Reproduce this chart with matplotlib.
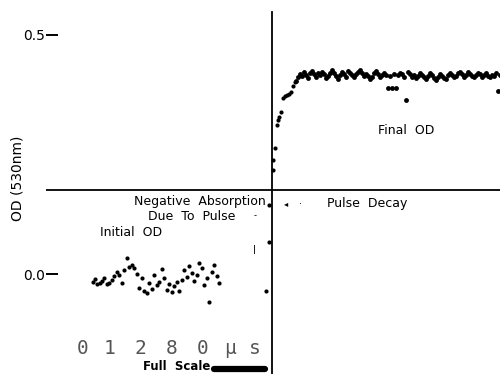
import numpy as np
import matplotlib.pyplot as plt
from matplotlib.lines import Line2D

# Time in microseconds (pulse at t = 0), optical density at 530 nm

# trace before the pulse (initial OD)
initial_t = [-448, -443, -438, -430, -425, -420, -413, -408, -400, -395,
             -388, -383, -375, -370, -363, -358, -350, -345, -338, -333,
             -325, -320, -313, -308, -300, -295, -288, -283, -275, -270,
             -263, -258, -250, -245, -238, -233, -225, -220, -213, -208,
             -200, -195, -188, -183, -175, -170, -163, -158, -150, -145,
             -138, -133]
initial_od = [-0.017, -0.010, -0.021, -0.019, -0.015, -0.008, -0.021, -0.019, -0.013, -0.004,
              0.004, -0.002, -0.019, 0.008, 0.033, 0.015, 0.019, 0.013, 0.000, -0.029,
              -0.008, -0.036, -0.040, -0.019, -0.031, -0.002, -0.023, -0.017, 0.010, -0.008,
              -0.033, -0.021, -0.038, -0.025, -0.017, -0.036, -0.013, 0.008, -0.006, 0.017,
              0.002, -0.015, -0.002, 0.023, 0.013, -0.023, -0.008, -0.059, 0.004, 0.019,
              -0.004, -0.019]

# points caught during the pulse (negative absorption)
pulse_t = [-7.5, -7.5, -15.0]
pulse_od = [0.144, 0.067, -0.036]

# pulse decay / rise to final OD
rise_t = [2.5, 2.5, 7.5, 12.5, 15, 17.5, 22.5, 27.5, 32.5, 37.5, 42.5, 47.5, 52.5, 57.5]
rise_od = [0.218, 0.238, 0.264, 0.312, 0.322, 0.328, 0.339, 0.368, 0.372, 0.374,
           0.377, 0.381, 0.393, 0.402]

# final OD plateau, sampled every 5 us
final_t = np.arange(60, 575, 5)
final_od = [0.404, 0.411, 0.419, 0.415, 0.422, 0.417, 0.409, 0.421, 0.425, 0.419,
            0.413, 0.420, 0.416, 0.423, 0.418, 0.410, 0.415, 0.421, 0.426, 0.420,
            0.415, 0.408, 0.417, 0.422, 0.419, 0.412, 0.424, 0.420, 0.416, 0.411,
            0.418, 0.423, 0.427, 0.421, 0.414, 0.419, 0.415, 0.408, 0.413, 0.420,
            0.424, 0.418, 0.412, 0.416, 0.421, 0.417, 0.389, 0.415, 0.390, 0.419,
            0.389, 0.416, 0.421, 0.418, 0.412, 0.364, 0.422, 0.418, 0.412, 0.416,
            0.410, 0.415, 0.421, 0.417, 0.411, 0.407, 0.414, 0.420, 0.416, 0.409,
            0.406, 0.413, 0.419, 0.415, 0.410, 0.408, 0.416, 0.421, 0.417, 0.412,
            0.415, 0.420, 0.422, 0.418, 0.413, 0.417, 0.423, 0.419, 0.415, 0.411,
            0.417, 0.421, 0.418, 0.413, 0.416, 0.420, 0.415, 0.411, 0.417, 0.414,
            0.420, 0.383, 0.416]

baseline_od = 0.176
ytick_vals = [0.0, 0.5]
ytick_labels = ['0.0', '0.5']
readout = ['0', '1', '2', '8', '0', 'μ', 's']

W, H = 500, 374


def px(x, y):
    # pixel position -> figure fraction
    return x / W, 1 - y / H


fig = plt.figure(figsize=(5.0, 3.74), dpi=100)
ax = fig.add_axes([46 / W, 0, 1 - 46 / W, 1])
ax.set_xlim(-565, 570)
ax.set_ylim(-0.209, 0.573)
for s in ax.spines.values():
    s.set_visible(False)
ax.set_xticks([])
ax.set_yticks(ytick_vals, ytick_labels)
ax.tick_params(axis='y', direction='in', length=8.5, width=1.4, pad=1, labelsize=10)

ax.axhline(baseline_od, color='k', lw=1.3)
ax.axvline(0, ymax=0.968, color='k', lw=1.3)

ms = 3.0
ax.plot(initial_t, initial_od, 'o', color='k', ms=ms, mew=0)
ax.plot(pulse_t, pulse_od, 'o', color='k', ms=ms, mew=0)
ax.plot(rise_t, rise_od, 'o', color='k', ms=ms, mew=0)
ax.plot(final_t, final_od, 'o', color='k', ms=ms + 0.5, mew=0)

fs = 9
fig.text(*px(266, 201), 'Negative  Absorption', ha='right', va='center', fontsize=fs)
fig.text(*px(148, 216), 'Due  To  Pulse', ha='left', va='center', fontsize=fs)
fig.text(*px(255, 216), '-', ha='center', va='center', fontsize=6)
fig.text(*px(255, 249), '|', ha='center', va='center', fontsize=6, fontweight='bold')
fig.text(*px(100, 232), 'Initial  OD', ha='left', va='center', fontsize=fs)
fig.text(*px(286, 204), '◂', ha='center', va='center', fontsize=6)
fig.text(*px(300, 204), '·', ha='center', va='center', fontsize=7)
fig.text(*px(327, 204), 'Pulse  Decay', ha='left', va='center', fontsize=fs)
fig.text(*px(378, 130), 'Final  OD', ha='left', va='center', fontsize=fs)
fig.text(*px(18, 178), 'OD (530nm)', rotation=90, ha='center', va='center', fontsize=10)

# full scale readout of the scope
for ch, x in zip(readout, [83, 109, 140, 172, 203, 230, 255]):
    fig.text(*px(x, 349), ch, ha='center', va='center', fontsize=14,
             family='DejaVu Sans Mono', color='#555555')
fig.text(*px(143, 366), 'Full  Scale', ha='left', va='center', fontsize=8.5, fontweight='bold')
fig.add_artist(Line2D([214 / W, 265 / W], [1 - 369 / H] * 2, lw=4.5, color='k',
                      solid_capstyle='round', transform=fig.transFigure))

fig.savefig('out.png', dpi=100)
